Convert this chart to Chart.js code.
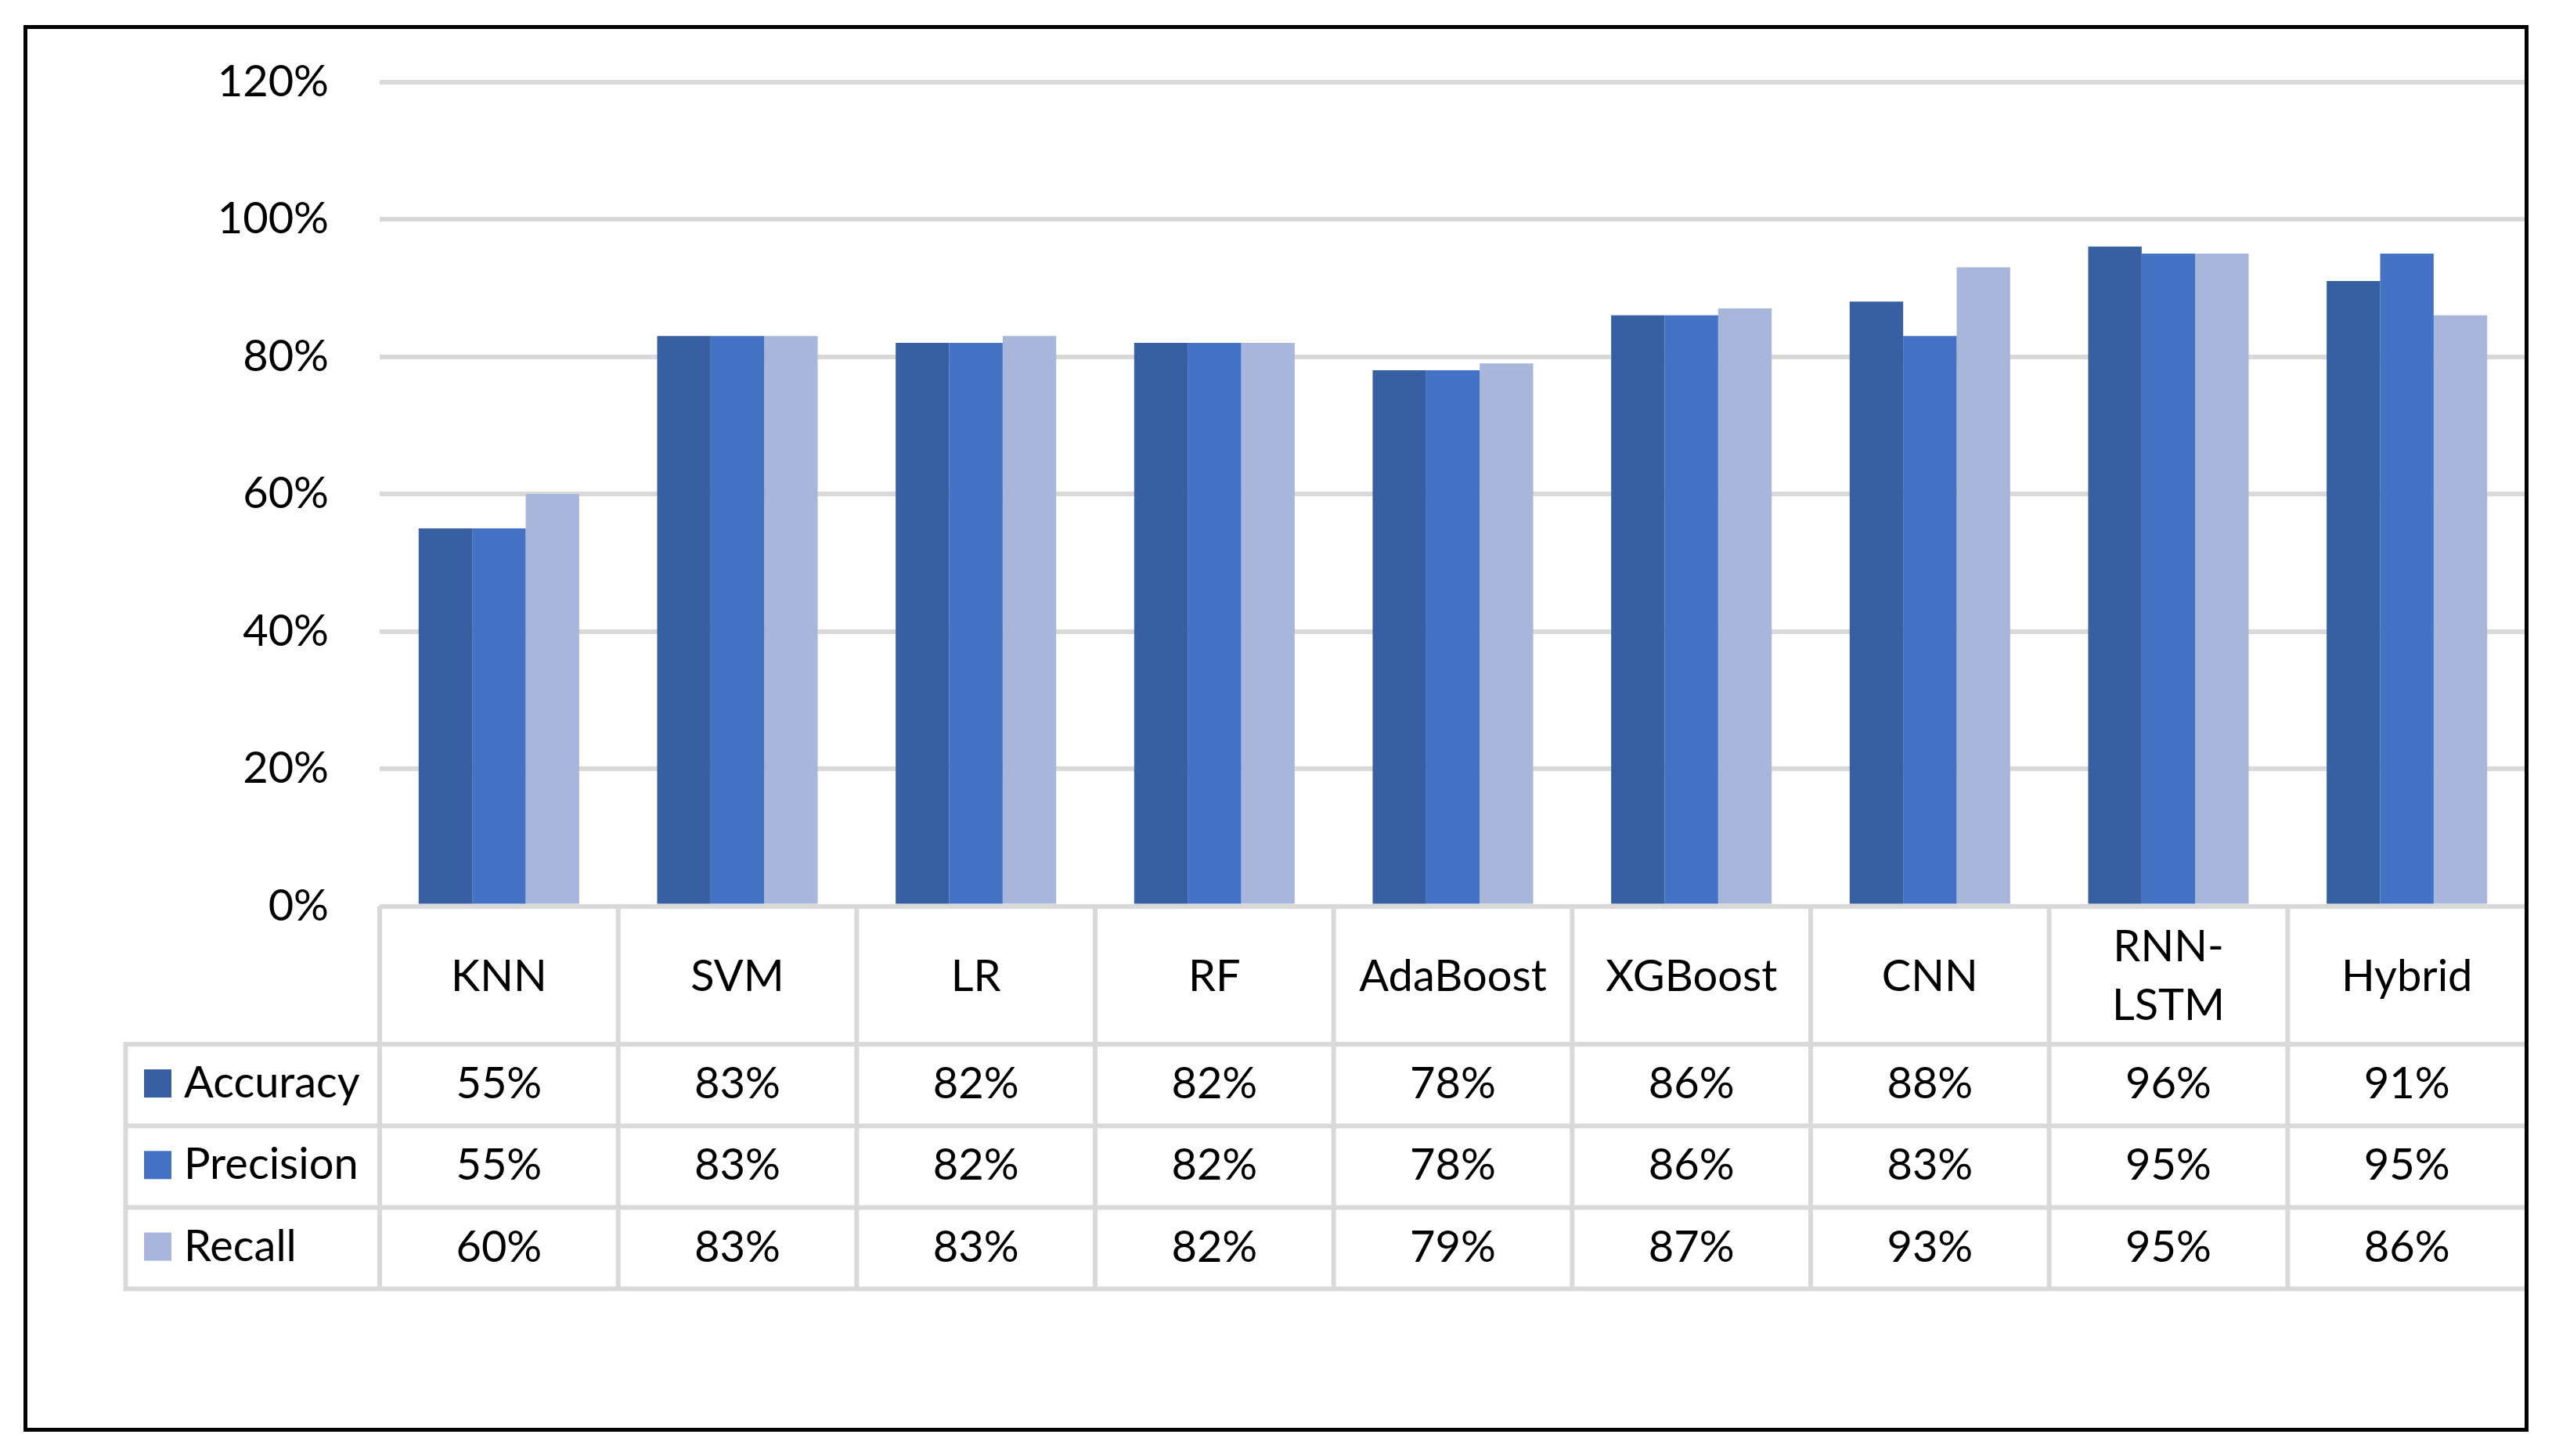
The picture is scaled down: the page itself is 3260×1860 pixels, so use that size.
<!DOCTYPE html>
<html>
<head>
<meta charset="utf-8">
<title>Model comparison</title>
<script src="https://cdn.jsdelivr.net/npm/chart.js@4.4.1/dist/chart.umd.min.js"></script>
<style>
    html, body { margin: 0; padding: 0; background: #ffffff; }
    #wrap { width: 3260px; height: 1860px; }
</style>
</head>
<body>
<div id="wrap"><canvas id="modelChart" width="3260" height="1860"></canvas></div>
<script>
// ===============================
//  DATA
// ===============================
const categories = ['KNN', 'SVM', 'LR', 'RF', 'AdaBoost', 'XGBoost', 'CNN', ['RNN-', 'LSTM'], 'Hybrid'];
const accuracy  = [55, 83, 82, 82, 78, 86, 88, 96, 91];
const precision = [55, 83, 82, 82, 78, 86, 83, 95, 95];
const recall    = [60, 83, 83, 82, 79, 87, 93, 95, 86];
const yTicks    = [0, 20, 40, 60, 80, 100, 120];

const seriesNames  = ['Accuracy', 'Precision', 'Recall'];
const seriesColors = ['#375fa2', '#4472c4', '#a8b6db'];

const FONT = 'Lato, "Open Sans", sans-serif';
const GRID = '#d9d9d9';

// ===============================
//  BORDER + DATA TABLE PLUGIN
// ===============================
const tablePlugin = {
    id: 'dataTable',
    beforeDraw(chart) {
        const ctx = chart.ctx;
        ctx.save();
        ctx.fillStyle = '#ffffff';
        ctx.fillRect(0, 0, chart.width, chart.height);
        ctx.restore();
    },
    afterDraw(chart) {
        const ctx = chart.ctx;
        const x = chart.scales.x;
        const area = chart.chartArea;
        const n = categories.length;
        const colW = (area.right - area.left) / n;

        const headTop = area.bottom;
        const headBottom = headTop + 176.5;
        const rowH = 104.2;
        const tableBottom = headBottom + rowH * 3;
        const tableLeft = 160.5;

        ctx.save();
        ctx.strokeStyle = GRID;
        ctx.lineWidth = 6;
        ctx.beginPath();
        // horizontal lines of the value rows
        for (let r = 0; r <= 3; r++) {
            const yy = headBottom + r * rowH;
            ctx.moveTo(tableLeft - 3, yy);
            ctx.lineTo(area.right, yy);
        }
        // left edge of the legend column
        ctx.moveTo(tableLeft, headBottom);
        ctx.lineTo(tableLeft, tableBottom + 3);
        // column separators
        for (let i = 0; i < n; i++) {
            const xx = area.left + i * colW;
            ctx.moveTo(xx, headTop);
            ctx.lineTo(xx, tableBottom + 3);
        }
        ctx.stroke();

        ctx.fillStyle = '#000000';
        ctx.font = '56px ' + FONT;
        ctx.textAlign = 'center';
        ctx.textBaseline = 'alphabetic';

        // header: category names
        const headMid = (headTop + headBottom) / 2;
        categories.forEach((label, i) => {
            const cx = x.getPixelForValue(i);
            const lines = Array.isArray(label) ? label : [label];
            const lineH = 75;
            const start = headMid + 20 - (lines.length - 1) * lineH / 2;
            lines.forEach((t, k) => ctx.fillText(t, cx, start + k * lineH));
        });

        // value rows
        const rows = [accuracy, precision, recall];
        rows.forEach((vals, r) => {
            const mid = headBottom + r * rowH + rowH / 2;
            vals.forEach((v, i) => {
                ctx.fillText(v + '%', x.getPixelForValue(i), mid + 17);
            });
            // legend key
            ctx.fillStyle = seriesColors[r];
            ctx.fillRect(184, mid - 20, 35, 36);
            ctx.fillStyle = '#000000';
            ctx.textAlign = 'left';
            ctx.fillText(seriesNames[r], 235, mid + 16);
            ctx.textAlign = 'center';
        });

        // outer frame
        ctx.strokeStyle = '#000000';
        ctx.lineWidth = 5;
        ctx.strokeRect(32.5, 34.5, 3195, 1792);
        ctx.restore();
    }
};

// ===============================
//  CHART
// ===============================
Chart.defaults.font.family = FONT;
Chart.defaults.font.size = 56;
Chart.defaults.color = '#000000';

const ctx = document.getElementById('modelChart');
new Chart(ctx, {
    type: 'bar',
    data: {
        labels: categories,
        datasets: [
            { label: seriesNames[0], data: accuracy,  backgroundColor: seriesColors[0] },
            { label: seriesNames[1], data: precision, backgroundColor: seriesColors[1] },
            { label: seriesNames[2], data: recall,    backgroundColor: seriesColors[2] }
        ]
    },
    options: {
        responsive: false,
        devicePixelRatio: 1,
        animation: false,
        categoryPercentage: 0.673,
        barPercentage: 1.0,
        layout: { padding: { left: 0, top: 104.5, right: 33, bottom: 702.5 } },
        plugins: {
            legend: { display: false },
            tooltip: { enabled: false }
        },
        scales: {
            x: {
                display: false
            },
            y: {
                min: 0,
                max: 120,
                afterBuildTicks: (scale) => {
                    scale.ticks = yTicks.map(v => ({ value: v }));
                },
                afterFit: (scale) => { scale.width = 485; },
                border: { display: false },
                grid: { color: GRID, lineWidth: 6, drawTicks: false },
                ticks: {
                    padding: 65,
                    font: { size: 56 },
                    color: '#000000',
                    callback: (v) => v + '%'
                }
            }
        }
    },
    plugins: [tablePlugin]
});
</script>
</body>
</html>
